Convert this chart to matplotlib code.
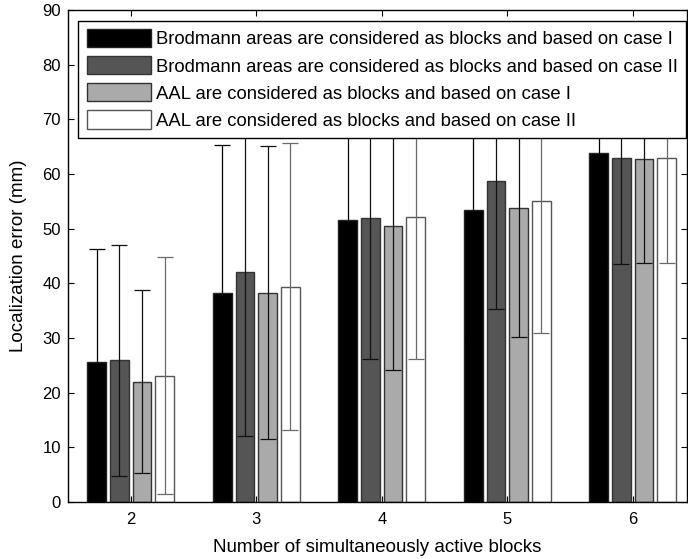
import matplotlib
matplotlib.use("Agg")
from matplotlib import pyplot as plt
import numpy as np

plt.rcParams['font.family'] = ['Liberation Sans', 'DejaVu Sans']

# number of simultaneously active blocks
blocks = [2, 3, 4, 5, 6]

# mean localization error (mm) per method
brod_case1 = [25.7, 38.3, 51.6, 53.5, 63.8]
brod_case2 = [25.9, 42.0, 52.0, 58.8, 63.0]
aal_case1 = [22.0, 38.3, 50.4, 53.8, 62.7]
aal_case2 = [23.1, 39.4, 52.2, 55.1, 63.0]

# standard deviation (mm)
brod_case1_sd = [20.5, 27.0, 26.0, 24.0, 19.0]
brod_case2_sd = [21.2, 30.0, 25.8, 23.5, 19.4]
aal_case1_sd = [16.7, 26.8, 26.3, 23.7, 18.9]
aal_case2_sd = [21.7, 26.3, 26.0, 24.1, 19.2]

labels = ["Brodmann areas are considered as blocks and based on case I",
          "Brodmann areas are considered as blocks and based on case II",
          "AAL are considered as blocks and based on case I",
          "AAL are considered as blocks and based on case II"]

means = [brod_case1, brod_case2, aal_case1, aal_case2]
sds = [brod_case1_sd, brod_case2_sd, aal_case1_sd, aal_case2_sd]
face_colors = ['#000000', '#555555', '#aaaaaa', '#ffffff']
edge_colors = ['#222222', '#333333', '#333333', '#555555']
err_colors = ['#000000', '#111111', '#111111', '#6a6a6a']
offsets = [-0.27, -0.09, 0.09, 0.27]
bar_w = 0.15

fig = plt.figure(figsize=(6.88, 5.59), dpi=100)
ax = fig.add_axes([68/688, 57/559, 619/688, 492/559])

x = np.array(blocks, dtype=float)
handles = []
for i in range(4):
    b = ax.bar(x + offsets[i], means[i], width=bar_w, color=face_colors[i],
               edgecolor=edge_colors[i], linewidth=1.0, zorder=2)
    ax.errorbar(x + offsets[i], means[i], yerr=sds[i], fmt='none',
                ecolor=err_colors[i], elinewidth=0.9, capsize=5.5,
                capthick=0.9, zorder=3)
    handles.append(b)

ax.set_xlim(1.5, 1.5 + 619/125.5)
ax.set_ylim(0, 90)
ax.set_xticks(blocks)
ax.set_yticks(range(0, 91, 10))
ax.tick_params(direction='in', top=True, right=True, length=4, width=0.8,
               labelsize=12, pad=5, colors='#000000')
ax.tick_params(axis='x', pad=7)
for s in ax.spines.values():
    s.set_linewidth(1.0)

ax.set_xlabel("Number of simultaneously active blocks", fontsize=13.5, labelpad=9)
ax.set_ylabel("Localization error (mm)", fontsize=13.5, labelpad=11)

leg = ax.legend(handles, labels, loc='upper right',
                bbox_to_anchor=(0.998, 0.978), fontsize=13.35,
                handlelength=3.45, handleheight=1.12, handletextpad=0.27,
                labelspacing=0.42, borderpad=0.45, borderaxespad=0,
                fancybox=False, framealpha=1, edgecolor='#000000')
leg.get_frame().set_linewidth(1.0)

plt.savefig("out.png", dpi=100)
